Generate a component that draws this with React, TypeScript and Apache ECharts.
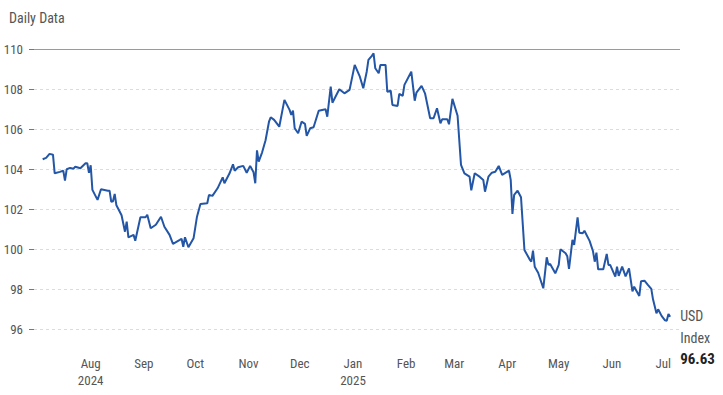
import React, { useEffect, useRef } from "react";
import * as echarts from "echarts";

const dates: string[] = [
  "2024-07-04","2024-07-06","2024-07-08","2024-07-10","2024-07-11","2024-07-14","2024-07-16","2024-07-17","2024-07-18","2024-07-20","2024-07-22","2024-07-23","2024-07-26","2024-07-29","2024-07-30","2024-07-31",
  "2024-08-01","2024-08-02","2024-08-05","2024-08-07","2024-08-11","2024-08-12","2024-08-13","2024-08-14","2024-08-15","2024-08-16","2024-08-19","2024-08-21","2024-08-22","2024-08-23","2024-08-26","2024-08-27","2024-08-30",
  "2024-09-02","2024-09-03","2024-09-05","2024-09-08","2024-09-11","2024-09-13","2024-09-16","2024-09-18","2024-09-22","2024-09-23","2024-09-24","2024-09-25","2024-09-27","2024-09-30",
  "2024-10-02","2024-10-04","2024-10-08","2024-10-09","2024-10-11","2024-10-14","2024-10-17","2024-10-18","2024-10-21","2024-10-23","2024-10-24","2024-10-26","2024-10-29","2024-10-31",
  "2024-11-02","2024-11-04","2024-11-05","2024-11-06","2024-11-07","2024-11-09","2024-11-11","2024-11-13","2024-11-14","2024-11-16","2024-11-19","2024-11-22","2024-11-25","2024-11-26","2024-11-27","2024-11-28","2024-11-30",
  "2024-12-02","2024-12-04","2024-12-05","2024-12-07","2024-12-09","2024-12-12","2024-12-16","2024-12-17","2024-12-19","2024-12-20","2024-12-24","2024-12-27","2024-12-30",
  "2025-01-02","2025-01-05","2025-01-07","2025-01-09","2025-01-10","2025-01-12","2025-01-13","2025-01-14","2025-01-16","2025-01-17","2025-01-20","2025-01-21","2025-01-23","2025-01-24","2025-01-27","2025-01-28","2025-01-30","2025-01-31",
  "2025-02-04","2025-02-06","2025-02-07","2025-02-10","2025-02-12","2025-02-15","2025-02-17","2025-02-19","2025-02-21","2025-02-22","2025-02-25","2025-02-26","2025-02-28",
  "2025-03-03","2025-03-05","2025-03-07","2025-03-10","2025-03-11","2025-03-13","2025-03-16","2025-03-18","2025-03-19","2025-03-21","2025-03-23","2025-03-25","2025-03-27","2025-03-29",
  "2025-04-02","2025-04-03","2025-04-04","2025-04-05","2025-04-07","2025-04-09","2025-04-11","2025-04-14","2025-04-15","2025-04-16","2025-04-17","2025-04-19","2025-04-22","2025-04-24","2025-04-25","2025-04-26","2025-04-29",
  "2025-05-01","2025-05-02","2025-05-05","2025-05-06","2025-05-07","2025-05-09","2025-05-10","2025-05-12","2025-05-13","2025-05-15","2025-05-16","2025-05-19","2025-05-21","2025-05-22","2025-05-23","2025-05-24","2025-05-27","2025-05-29","2025-05-30","2025-05-31",
  "2025-06-03","2025-06-04","2025-06-05","2025-06-07","2025-06-09","2025-06-11","2025-06-13","2025-06-14","2025-06-17","2025-06-18","2025-06-20","2025-06-22","2025-06-24","2025-06-25","2025-06-27","2025-06-28","2025-06-30",
  "2025-07-02","2025-07-03","2025-07-04","2025-07-05",
];

const usdIndex: number[] = [
  104.5,104.57,104.77,104.73,103.8,103.87,103.93,103.43,104.0,104.07,104.03,104.13,104.05,104.3,104.3,103.83,
  104.2,102.97,102.47,103.0,102.93,102.93,102.37,102.4,102.77,102.2,101.7,100.88,101.38,100.6,100.72,100.43,101.6,
  101.6,101.73,101.05,101.23,101.63,101.13,100.72,100.27,100.47,100.53,100.13,100.6,100.1,100.55,
  101.63,102.27,102.3,102.72,102.67,103.05,103.6,103.3,103.8,104.25,103.93,104.1,104.17,103.83,
  104.17,103.85,103.3,104.95,104.38,104.85,105.45,106.38,106.6,106.47,106.13,107.47,106.97,106.72,106.93,106.05,105.8,
  106.38,106.27,105.67,106.05,106.1,106.93,107.0,106.63,108.13,107.33,108.0,107.8,107.97,
  109.22,108.63,108.05,108.88,109.47,109.67,109.8,109.05,108.8,109.22,109.22,107.88,107.93,107.22,107.17,107.77,107.67,108.22,
  108.88,107.43,107.83,108.17,107.8,106.55,106.55,107.05,106.3,106.5,106.5,106.25,107.52,
  106.68,104.22,103.8,103.63,102.95,103.8,103.62,103.47,102.88,103.63,103.83,103.88,104.17,103.72,
  103.93,103.47,101.77,102.72,102.93,102.6,99.97,99.5,99.38,99.93,99.13,98.83,98.05,99.6,99.22,99.27,98.8,
  99.22,100.0,99.8,99.65,99.02,100.47,100.22,101.6,100.83,100.8,100.93,100.42,99.9,99.38,99.83,99.0,99.0,99.77,99.22,99.22,
  98.63,99.13,98.67,99.13,98.65,99.05,97.9,98.13,97.67,98.4,98.43,98.22,98.02,97.5,96.8,97.0,96.67,
  96.45,96.43,96.77,96.63,
];

const tickDates: string[] = [
  "2024-08-01","2024-09-01","2024-10-01","2024-11-01","2024-12-01","2025-01-01",
  "2025-02-01","2025-03-01","2025-04-01","2025-05-01","2025-06-01","2025-07-01",
];
const tickLabels: string[] = [
  "Aug\n2024","Sep","Oct","Nov","Dec","Jan\n2025","Feb","Mar","Apr","May","Jun","Jul",
];

const yMin = 96;
const yMax = 110;
const yStep = 2;

const seriesName = ["USD", "Index"];

const FONT = "'Liberation Sans Narrow', 'Roboto Condensed', 'DejaVu Sans Condensed', 'Liberation Sans', sans-serif";

function ts(s: string): number {
  const [y, m, d] = s.split("-").map(Number);
  return Date.UTC(y, m - 1, d);
}

export default function App() {
  const ref = useRef<HTMLDivElement>(null);
  useEffect(() => {
    if (!ref.current) return;
    const chart = echarts.init(ref.current, undefined, { renderer: "svg" });
    const data = dates.map((d, i) => [ts(d), usdIndex[i]]);
    const tickTs = tickDates.map(ts);
    const xMin = Date.UTC(2024, 5, 28, 22, 20);
    const xMax = Date.UTC(2025, 6, 10, 17, 46);
    chart.setOption({
      animation: false,
      backgroundColor: "#ffffff",
      title: {
        text: "Daily Data",
        left: 4,
        top: 6,
        textStyle: { fontFamily: FONT, fontSize: 14, fontWeight: "normal", color: "#555" },
      },
      grid: { left: 34, top: 49.3, width: 646, height: 280 },
      xAxis: {
        type: "value",
        min: xMin,
        max: xMax,
        axisLine: { show: false },
        axisTick: { show: false },
        splitLine: { show: false },
        axisLabel: {
          customValues: tickTs,
          margin: 26,
          fontFamily: FONT,
          fontSize: 13,
          lineHeight: 17,
          color: "#555",
          formatter: (v: number) => {
            const i = tickTs.indexOf(v);
            return i >= 0 ? tickLabels[i] : "";
          },
        },
      },
      yAxis: {
        type: "value",
        min: yMin,
        max: yMax,
        interval: yStep,
        axisLine: { show: false },
        axisTick: { show: true, length: 5, lineStyle: { color: "#777" } },
        splitLine: { show: true, lineStyle: { color: "#dcdcdc", type: [3, 3], width: 1 } },
        axisLabel: { margin: 11, fontFamily: FONT, fontSize: 13, color: "#555" },
      },
      series: [
        {
          type: "line",
          data,
          showSymbol: false,
          lineStyle: { color: "#2356a6", width: 2 },
          itemStyle: { color: "#2356a6" },
          markLine: {
            silent: true,
            symbol: "none",
            label: { show: false },
            lineStyle: { color: "#9a9a9a", type: "solid", width: 1 },
            data: [{ yAxis: yMax }],
          },
          endLabel: {
            show: true,
            distance: 10,
            align: "left",
            verticalAlign: "top",
            offset: [0, -11],
            formatter: (p: any) =>
              `{a|${seriesName[0]}}\n{a|${seriesName[1]}}\n{b|${Number(p.value[1]).toFixed(2)}}`,
            rich: {
              a: { fontFamily: FONT, fontSize: 14, color: "#555", lineHeight: 21.5 },
              b: { fontFamily: FONT, fontSize: 15, fontWeight: "bold", color: "#222", lineHeight: 21.5 },
            },
          },
        },
      ],
    });
    return () => chart.dispose();
  }, []);
  return (
    <div
      ref={ref}
      style={{ position: "fixed", left: 0, top: 0, width: 723, height: 395, background: "#fff" }}
    />
  );
}
